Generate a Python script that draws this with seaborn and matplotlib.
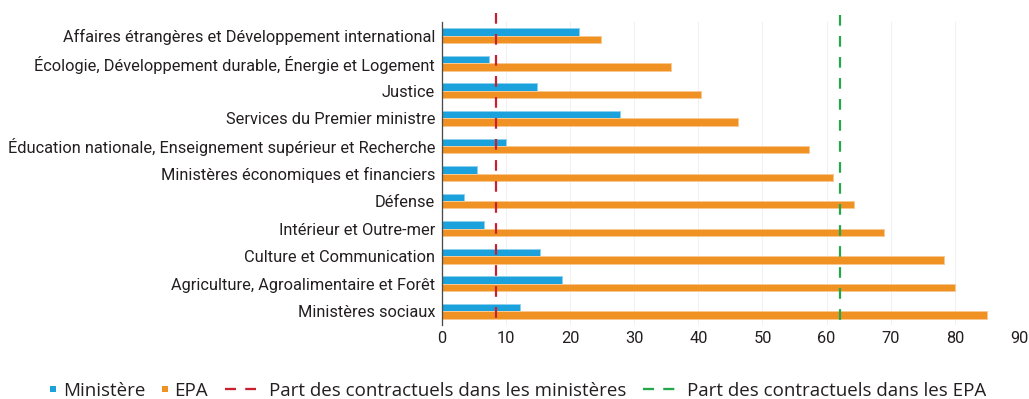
import matplotlib
matplotlib.use("Agg")
import matplotlib.pyplot as plt
from matplotlib.lines import Line2D
from matplotlib.colors import to_rgb
import pandas as pd
import seaborn as sns

# --- data -------------------------------------------------------------
ministeres = [
    "Affaires étrangères et Développement international",
    "Écologie, Développement durable, Énergie et Logement",
    "Justice",
    "Services du Premier ministre",
    "Éducation nationale, Enseignement supérieur et Recherche",
    "Ministères économiques et financiers",
    "Défense",
    "Intérieur et Outre-mer",
    "Culture et Communication",
    "Agriculture, Agroalimentaire et Forêt",
    "Ministères sociaux",
]
part_ministere = [21.4, 7.4, 14.9, 27.8, 10.0, 5.5, 3.4, 6.6, 15.4, 18.7, 12.2]
part_epa = [24.8, 35.8, 40.4, 46.2, 57.2, 61.0, 64.2, 69.0, 78.3, 80.1, 85.0]
moyenne_ministeres = 8.4
moyenne_epa = 62.1
x_ticks = [0, 10, 20, 30, 40, 50, 60, 70, 80, 90]
series = ["Ministère", "EPA"]
legend_labels = ["Ministère", "EPA",
                 "Part des contractuels dans les ministères",
                 "Part des contractuels dans les EPA"]

# --- style ------------------------------------------------------------
BLUE = "#1ba1dc"
ORANGE = "#ef9223"
RED = "#c8202f"
GREEN = "#22a84a"
TEXT = "#231f20"
TICK_FONT = ["Roboto", "DejaVu Sans"]
LEGEND_FONT = ["Open Sans", "DejaVu Sans"]

sns.set_theme(style="white")
plt.rcParams["font.family"] = TICK_FONT
plt.rcParams["text.color"] = TEXT

DPI = 100
W, H = 1029, 399
PX = 72 / DPI  # points per pixel

df = pd.DataFrame({
    "ministere": ministeres * 2,
    "type": [series[0]] * len(ministeres) + [series[1]] * len(ministeres),
    "valeur": part_ministere + part_epa,
})

fig = plt.figure(figsize=(W / DPI, H / DPI), dpi=DPI)
ax = fig.add_axes([441.7 / W, 1 - 325 / H, (1019 - 441.7) / W, 303 / H])

sns.barplot(data=df, x="valeur", y="ministere", hue="type", hue_order=series,
            palette=[BLUE, ORANGE], orient="h", width=0.54, gap=0,
            saturation=1, errorbar=None, legend=False, ax=ax)


def lighten(c, f=0.5):
    r, g, b = to_rgb(c)
    return (r + (1 - r) * f, g + (1 - g) * f, b + (1 - b) * f)


for p in ax.patches:
    p.set_edgecolor(lighten(p.get_facecolor()))
    p.set_linewidth(1.0 * PX)

# reference lines (drawn from the top so the dash pattern starts there)
LW = 2.2 * PX
ax.axvline(moyenne_ministeres, ymin=1.0287, ymax=0.013, clip_on=False,
           color=RED, lw=LW, dashes=(4.85, 4.7), zorder=5)
ax.axvline(moyenne_epa, ymin=1.023, ymax=0.013, clip_on=False,
           color=GREEN, lw=LW, dashes=(4.85, 4.7), zorder=5)

ax.set_xlim(0, 90)
ax.set_xticks(x_ticks)
ax.set_xticklabels([str(t) for t in x_ticks])
ax.set_xlabel("")
ax.set_ylabel("")
ax.xaxis.grid(True, color="#f0f0f0", lw=1.0 * PX)
ax.yaxis.grid(False)
ax.set_axisbelow(True)
for s in ["top", "right", "bottom"]:
    ax.spines[s].set_visible(False)
ax.spines["left"].set_color("#4a4a4a")
ax.spines["left"].set_linewidth(1.3 * PX)
ax.tick_params(axis="both", length=0, labelsize=11.8, colors=TEXT)
ax.tick_params(axis="y", pad=4.8)
ax.tick_params(axis="x", pad=4.0)

# --- legend -----------------------------------------------------------
LEG_FS = 13.5
fs_px = LEG_FS / PX
y_leg = 1 - 391 / H
leg_prop = {"family": LEGEND_FONT, "size": LEG_FS}
sq = [Line2D([], [], ls="none", marker="s", markersize=6 * PX,
             markerfacecolor=c, markeredgewidth=0) for c in (BLUE, ORANGE)]
dash = [Line2D([], [], color=c, lw=2.3 * PX, dashes=(4.8, 4.0))
        for c in (RED, GREEN)]

leg1 = fig.legend(sq, legend_labels[:2], loc="center left",
                  bbox_to_anchor=(50 / W, y_leg), ncol=2, frameon=False,
                  prop=leg_prop, handlelength=6 / fs_px,
                  handletextpad=6.7 / fs_px, columnspacing=16.7 / fs_px,
                  borderpad=0, borderaxespad=0)
leg2 = fig.legend(dash, legend_labels[2:], loc="center left",
                  bbox_to_anchor=(224 / W, y_leg), ncol=2, frameon=False,
                  prop=leg_prop, handlelength=31.3 / fs_px,
                  handletextpad=12.7 / fs_px, columnspacing=17 / fs_px,
                  borderpad=0, borderaxespad=0)
fig.canvas.draw()
bb = leg1.get_window_extent()
leg2.set_bbox_to_anchor(((bb.x1 + 17) / W, y_leg), transform=fig.transFigure)

fig.savefig("out.png", dpi=DPI)
